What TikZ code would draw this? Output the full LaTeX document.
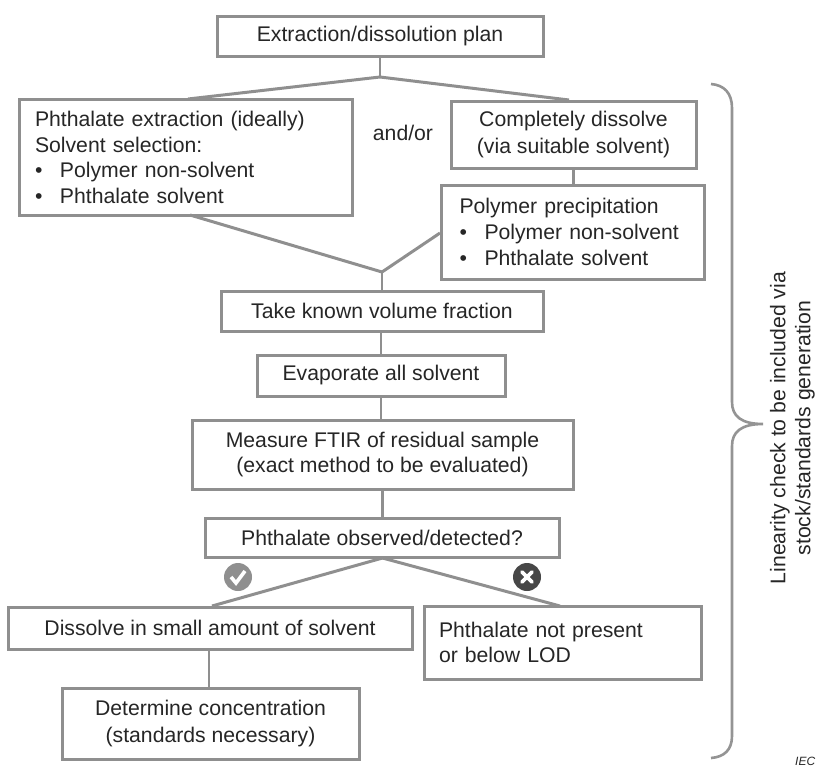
\documentclass[tikz,border=0pt]{standalone}
\usepackage{fontspec}
\setmainfont{Liberation Sans}
\definecolor{ln}{HTML}{8F8F8F}
\definecolor{txt}{HTML}{262626}
\tikzset{
  box/.style={draw=ln,line width=3pt,fill=white,align=center,text=txt,inner sep=0pt,font=\fs},
  lbox/.style={box,align=left},
  conn/.style={draw=ln,line width=3pt},
  thinconn/.style={draw=ln,line width=2.2pt},
  lab/.style={text=txt,font=\fs,inner sep=0pt,align=center},
}
\newcommand{\fs}{\fontsize{21.2}{25.6}\selectfont}
\newcommand{\blt}[1]{\makebox[25pt][l]{\textbullet}#1}
\begin{document}
\begin{tikzpicture}[x=1pt,y=-1pt]
\useasboundingbox (0,0) rectangle (818,766);
\coordinate (j1) at (380,77);
\coordinate (j2) at (382,272);
\coordinate (j3) at (382.5,558);
\node[box,minimum width=326pt,minimum height=40pt] (plan) at (380,36) {Extraction/dissolution plan};
\node[lbox,text width=301pt,inner xsep=16pt,minimum height=116pt] (extr) at (185.5,157.5) {Phthalate extraction (ideally)\\Solvent selection:\\\blt{Polymer non-solvent}\\\blt{Phthalate solvent}};
\node[lab] (andor) at (403,133) {and/or};
\node[box,minimum width=245pt,minimum height=67pt] (diss) at (573.5,134.5) {Completely dissolve\\[1pt](via suitable solvent)};
\node[lbox,text width=227pt,inner xsep=18pt,minimum height=94pt] (prec) at (573,232) {Polymer precipitation\\\blt{Polymer non-solvent}\\\blt{Phthalate solvent}};
\node[box,minimum width=322pt,minimum height=40pt] (frac) at (382,311) {Take known volume fraction};
\node[box,minimum width=248pt,minimum height=41pt] (evap) at (381,375.5) {Evaporate all solvent};
\node[box,minimum width=381pt,minimum height=69pt] (ftir) at (382.5,454.5) {Measure FTIR of residual sample\\(exact method to be evaluated)};
\node[box,minimum width=354pt,minimum height=39pt] (obs) at (382,537.5) {Phthalate observed/detected?};
\node[box,minimum width=404pt,minimum height=42pt] (small) at (210,628) {Dissolve in small amount of solvent};
\node[lbox,text width=247pt,inner xsep=15pt,minimum height=73pt] (lod) at (562.5,642.5) {Phthalate not present\\or below LOD};
\node[box,minimum width=297pt,minimum height=71pt] (conc) at (210.5,723.5) {Determine concentration\\[1pt](standards necessary)};
\node[circle,fill=ln,minimum size=28pt,inner sep=0pt] (yes) at (238,577) {};
\node[circle,fill=black!72,minimum size=28pt,inner sep=0pt] (no) at (527,577) {};
\draw[white,line width=3.6pt] (yes.center)+(-7,0) -- +(-2,6) -- +(7,-6);
\draw[white,line width=3.8pt,line cap=round] (no.center)+(-5,-5) -- +(5,5) (no.center)+(5,-5) -- +(-5,5);
\draw[thinconn] (plan.south) -- (j1);
\draw[conn] (j1) -- (188,99);
\draw[conn] (j1) -- (569,100);
\draw[conn] (190,215) -- (j2);
\draw[conn] (prec.west |- 0,233) -- (j2);
\draw[thinconn] (j2) -- (frac.north -| j2);
\draw[thinconn] (diss.south) -- (prec.north -| diss.south);
\draw[thinconn] (frac.south -| evap.north) -- (evap.north);
\draw[thinconn] (evap.south) -- (evap.south |- ftir.north);
\draw[thinconn] (ftir.south) -- (obs.north -| ftir.south);
\draw[conn] (j3) -- (212,606);
\draw[conn] (j3) -- (560,606);
\draw[thinconn] (small.south -| 209,0) -- (conc.north -| 209,0);
\draw[draw=black!42,line width=2.6pt]
  (711,84) .. controls (724,85) and (732,93) .. (732,108) -- (732,402)
  .. controls (732,416) and (741,424) .. (763,424)
  .. controls (741,424) and (732,432) .. (732,446) -- (732,736)
  .. controls (732,750) and (724,757) .. (711,758);
\node[lab,rotate=90] (link1) at (780,428) {Linearity check to be included via};
\node[lab,rotate=90] (link2) at (805,428) {stock/standards generation};
\node[text=txt,inner sep=0pt,anchor=base west,font=\fontsize{12}{13}\itshape\selectfont] (iec) at (795,765) {IEC};
\end{tikzpicture}
\end{document}
